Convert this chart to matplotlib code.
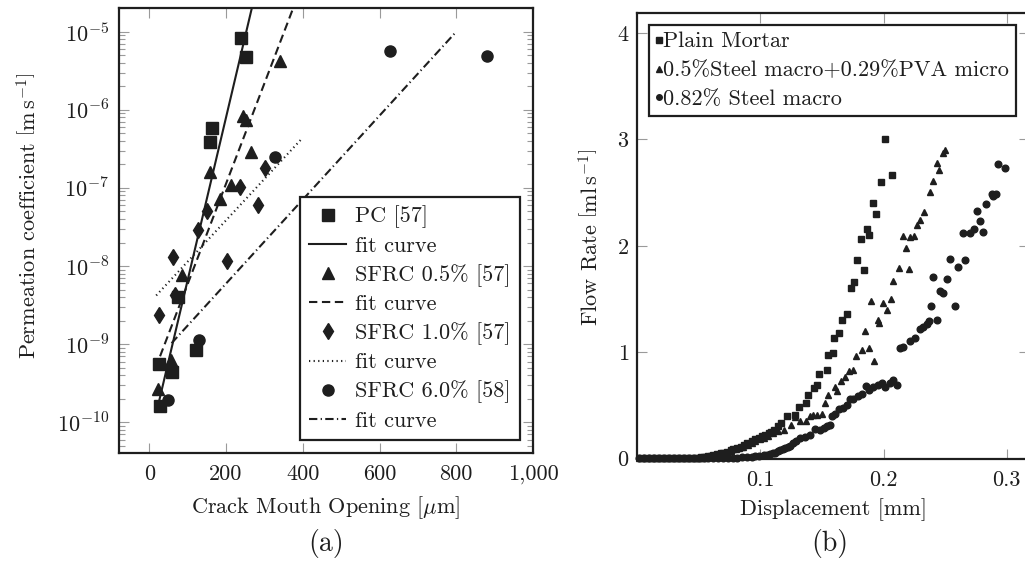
import matplotlib.pyplot as plt
from matplotlib.lines import Line2D

plt.rcParams['font.family'] = ['cmr10', 'DejaVu Serif']
plt.rcParams['mathtext.fontset'] = 'cm'
plt.rcParams['axes.unicode_minus'] = False
plt.rcParams['font.size'] = 16

INK = '#1e1e1e'
TICK = '#9a9a9a'

# ---- (a) permeation coefficient vs crack mouth opening ----
pc_x = [240, 251, 164, 158, 75, 121, 26, 60, 28]
pc_y = [8.2e-6, 4.7e-6, 5.8e-7, 3.9e-7, 4.0e-9, 8.3e-10, 5.5e-10, 4.4e-10, 1.6e-10]
pc_fit_x = [24.5, 280]
pc_fit_y = [1.78e-10, 3.7e-5]

s05_x = [341, 245, 251, 265, 158, 212, 184, 84, 57, 22]
s05_y = [4.2e-6, 8.4e-7, 7.3e-7, 2.85e-7, 1.6e-7, 1.1e-7, 7.3e-8, 7.6e-9, 6.2e-10, 2.7e-10]
s05_fit_x = [28, 400]
s05_fit_y = [7.0e-10, 4.2e-5]

s10_x = [302, 236, 283, 150, 128, 62, 202, 68, 24]
s10_y = [1.8e-7, 1.04e-7, 6.0e-8, 5.0e-8, 2.9e-8, 1.32e-8, 1.15e-8, 4.3e-9, 2.35e-9]
s10_fit_x = [18, 400]
s10_fit_y = [4.2e-9, 4.4e-7]

s60_x = [628, 879, 328, 129, 50]
s60_y = [5.6e-6, 4.9e-6, 2.5e-7, 1.12e-9, 1.95e-10]
s60_fit_x = [58, 800]
s60_fit_y = [1.03e-9, 1.0e-5]

a_xticks = [0, 200, 400, 600, 800, 1000]
a_xlabels = ['0', '200', '400', '600', '800', '1,000']
a_yticks = [1e-10, 1e-9, 1e-8, 1e-7, 1e-6, 1e-5]
a_ylabels = [r'$10^{-10}$', r'$10^{-9}$', r'$10^{-8}$', r'$10^{-7}$', r'$10^{-6}$', r'$10^{-5}$']

# ---- (b) flow rate vs displacement ----
flat_pm = [0.003, 0.007, 0.011, 0.015, 0.019, 0.023, 0.027, 0.031, 0.035, 0.039, 0.043, 0.047]
pm_x = flat_pm + [0.050, 0.052, 0.054, 0.056, 0.058, 0.060, 0.062, 0.065, 0.068, 0.070,
                  0.073, 0.076, 0.078, 0.081, 0.084, 0.087, 0.089, 0.093, 0.096, 0.099,
                  0.101, 0.104, 0.107, 0.109, 0.111, 0.114, 0.117, 0.1215, 0.1283, 0.1318,
                  0.1367, 0.1388, 0.1432, 0.1459, 0.148, 0.154, 0.155, 0.1588, 0.1602, 0.1637,
                  0.1664, 0.1702, 0.1734, 0.1761, 0.1788, 0.1839, 0.1815, 0.1886, 0.1864, 0.1937,
                  0.1918, 0.1977, 0.2066, 0.2015]
pm_y = [0.0] * 12 + [0.008, 0.010, 0.013, 0.016, 0.019, 0.024, 0.031, 0.038, 0.047, 0.053,
                     0.063, 0.078, 0.09, 0.10, 0.11, 0.125, 0.14, 0.16, 0.18, 0.195,
                     0.21, 0.22, 0.24, 0.25, 0.27, 0.30, 0.33, 0.40, 0.41, 0.48,
                     0.52, 0.60, 0.66, 0.69, 0.79, 0.83, 0.97, 0.99, 1.13, 1.18,
                     1.30, 1.36, 1.60, 1.66, 1.87, 1.77, 2.06, 2.10, 2.16, 2.30,
                     2.40, 2.60, 2.67, 3.00]

flat_pva = [0.002, 0.006, 0.010, 0.014, 0.018, 0.022, 0.026, 0.030, 0.034, 0.038, 0.042, 0.046, 0.050, 0.054]
pva_x = flat_pva + [0.057, 0.060, 0.063, 0.066, 0.070, 0.073, 0.076, 0.080, 0.083, 0.086,
                    0.090, 0.093, 0.096, 0.100, 0.103, 0.106, 0.110, 0.114, 0.1194, 0.1248,
                    0.1283, 0.1324, 0.1367, 0.1405, 0.1426, 0.1464, 0.1499, 0.1526, 0.1553, 0.1620,
                    0.1607, 0.1653, 0.1688, 0.1723, 0.1756, 0.1777, 0.1823, 0.1880, 0.1926, 0.1850,
                    0.1966, 0.1953, 0.1899, 0.2031, 0.1996, 0.2058, 0.2080, 0.2128, 0.2206, 0.2180,
                    0.2155, 0.2215, 0.2250, 0.2268, 0.2296, 0.2328, 0.2376, 0.2398, 0.2452, 0.2430,
                    0.2484, 0.2498]
pva_y = [0.0] * 14 + [0.014, 0.025, 0.032, 0.040, 0.05, 0.062, 0.072, 0.085, 0.097, 0.11,
                      0.13, 0.145, 0.16, 0.18, 0.195, 0.215, 0.24, 0.255, 0.27, 0.31,
                      0.39, 0.35, 0.35, 0.40, 0.41, 0.41, 0.42, 0.52, 0.60, 0.63,
                      0.67, 0.73, 0.77, 0.82, 0.83, 0.96, 1.02, 1.04, 0.92, 1.20,
                      1.27, 1.30, 1.48, 1.40, 1.46, 1.50, 1.67, 1.79, 1.78, 1.98,
                      2.09, 2.08, 2.09, 2.20, 2.24, 2.32, 2.51, 2.61, 2.71, 2.78,
                      2.87, 2.90]

flat_st = [0.002, 0.006, 0.010, 0.014, 0.018, 0.022, 0.026, 0.030, 0.034, 0.038, 0.042,
           0.046, 0.050, 0.054, 0.058, 0.062, 0.066, 0.070, 0.074, 0.078]
st_x = flat_st + [0.0811, 0.085, 0.0892, 0.093, 0.096, 0.099, 0.1027, 0.1055, 0.1081, 0.1100,
                  0.1121, 0.1142, 0.1162, 0.1182, 0.1202, 0.1222, 0.1243, 0.1267, 0.1291, 0.1324,
                  0.1364, 0.1405, 0.1445, 0.1486, 0.1515, 0.154, 0.1567, 0.158, 0.1607, 0.1642,
                  0.1669, 0.1702, 0.1729, 0.1756, 0.1796, 0.1823, 0.1856, 0.1885, 0.1918, 0.1958,
                  0.1985, 0.2012, 0.2053, 0.2080, 0.2107,
                  0.2134, 0.2161, 0.2215, 0.2255, 0.2296, 0.2323, 0.2355, 0.2371, 0.2382, 0.2430,
                  0.2457, 0.2479, 0.2403, 0.2511, 0.2579, 0.2538, 0.2606, 0.2660, 0.2646, 0.2700,
                  0.2733, 0.2760, 0.2781, 0.2808, 0.2830, 0.2876, 0.2889, 0.2916, 0.2930, 0.2984]
st_y = [0.0] * 20 + [0.006, 0.009, 0.013, 0.016, 0.019, 0.023, 0.028, 0.034, 0.041, 0.046,
                     0.053, 0.065, 0.078, 0.086, 0.094, 0.107, 0.12, 0.14, 0.16, 0.19,
                     0.20, 0.22, 0.28, 0.27, 0.285, 0.30, 0.31, 0.40, 0.42, 0.46,
                     0.47, 0.50, 0.56, 0.56, 0.59, 0.61, 0.68, 0.64, 0.67, 0.69,
                     0.71, 0.67, 0.71, 0.74, 0.69,
                     1.04, 1.05, 1.10, 1.13, 1.22, 1.24, 1.26, 1.29, 1.43, 1.30,
                     1.57, 1.56, 1.71, 1.69, 1.43, 1.88, 1.80, 1.87, 2.12, 2.12,
                     2.16, 2.33, 2.23, 2.13, 2.39, 2.49, 2.47, 2.49, 2.77, 2.73]

b_xticks = [0.1, 0.2, 0.3]
b_yticks = [0, 1, 2, 3, 4]

fig = plt.figure(figsize=(10.25, 5.62), dpi=100)
ax1 = fig.add_axes([119 / 1025, 1 - 453 / 562, 414 / 1025, 445 / 562])
ax2 = fig.add_axes([637 / 1025, 1 - 459 / 562, 392 / 1025, 446 / 562])

for ax in (ax1, ax2):
    for sp in ax.spines.values():
        sp.set_linewidth(1.6)
        sp.set_color(INK)
    ax.tick_params(which='both', direction='in', top=True, right=True,
                   color=TICK, width=0.8, labelcolor=INK, labelsize=16)
    ax.tick_params(which='major', length=7)

# panel (a)
ax1.set_yscale('log')
ax1.set_xlim(-79, 1000)
ax1.set_ylim(10 ** -10.393, 10 ** -4.697)

ax1.plot(pc_x, pc_y, 's', ms=8, color=INK, label='PC [57]')
ax1.plot(pc_fit_x, pc_fit_y, '-', lw=1.5, color=INK, label='fit curve')
ax1.plot(s05_x, s05_y, '^', ms=8, color=INK, label='SFRC 0.5% [57]')
ax1.plot(s05_fit_x, s05_fit_y, lw=1.5, color=INK, dashes=(4, 2.2), label='fit curve')
ax1.plot(s10_x, s10_y, 'd', ms=8, color=INK, label='SFRC 1.0% [57]')
ax1.plot(s10_fit_x, s10_fit_y, lw=1.5, color=INK, dashes=(0.6, 1.6), label='fit curve')
ax1.plot(s60_x, s60_y, 'o', ms=8, color=INK, label='SFRC 6.0% [58]')
ax1.plot(s60_fit_x, s60_fit_y, lw=1.5, color=INK, dashes=(4, 1.6, 0.6, 1.6), label='fit curve')

ax1.set_xticks(a_xticks)
ax1.set_xticklabels(a_xlabels)
ax1.set_yticks(a_yticks)
ax1.set_yticklabels(a_ylabels)
ax1.tick_params(which='minor', length=4)
ax1.tick_params(axis='x', pad=8)
ax1.tick_params(axis='y', pad=7)

leg1 = ax1.legend(loc='lower right', fontsize=16, frameon=True, fancybox=False,
                  edgecolor=INK, framealpha=1, handlelength=1.7, handletextpad=0.4,
                  labelspacing=0.36, borderaxespad=0.6, borderpad=0.4)
leg1.get_frame().set_linewidth(1.6)
for t in leg1.get_texts():
    t.set_color(INK)

# panel (b): markers sitting on y = 0 are drawn in full over the axis line
ax2.plot(pm_x, pm_y, 's', ms=4.6, color=INK, lw=0, clip_on=False)
ax2.plot(pva_x, pva_y, '^', ms=5, color=INK, lw=0, clip_on=False)
ax2.plot(st_x, st_y, 'o', ms=4.8, color=INK, lw=0, clip_on=False)
ax2.set_xlim(0.0, 0.318)
ax2.set_ylim(-0.006, 4.19)
ax2.set_xticks(b_xticks)
ax2.set_xticklabels(['0.1', '0.2', '0.3'])
ax2.set_yticks(b_yticks)
ax2.set_yticklabels([str(v) for v in b_yticks])
ax2.tick_params(axis='x', pad=8)
ax2.tick_params(axis='y', pad=6)

handles = [Line2D([], [], marker=m, ls='', ms=4, color=INK) for m in ('s', '^', 'o')]
leg2 = ax2.legend(handles, ['Plain Mortar', '0.5%Steel macro+0.29%PVA micro', '0.82% Steel macro'],
                  loc='upper left', fontsize=16, frameon=True, fancybox=False, edgecolor=INK,
                  framealpha=1, handlelength=0.25, handletextpad=0.08, labelspacing=0.42,
                  borderaxespad=0.55, borderpad=0.3)
leg2.get_frame().set_linewidth(1.6)
for t in leg2.get_texts():
    t.set_color(INK)

# axis titles and panel tags
fig.text(28 / 1025, 1 - 216 / 562, r'Permeation coefficient $\left[\mathrm{m\,s^{-1}}\right]$',
         rotation=90, ha='center', va='center', fontsize=16, color=INK)
fig.text(590 / 1025, 1 - 237 / 562, r'Flow Rate $\left[\mathrm{ml\,s^{-1}}\right]$',
         rotation=90, ha='center', va='center', fontsize=16, color=INK)
fig.text(326 / 1025, 1 - 508 / 562, r'Crack Mouth Opening [$\mu$m]',
         ha='center', va='center', fontsize=16, color=INK)
fig.text(833 / 1025, 1 - 510 / 562, 'Displacement [mm]',
         ha='center', va='center', fontsize=16, color=INK)
fig.text(326 / 1025, 1 - 543 / 562, '(a)', ha='center', va='center', fontsize=20, color=INK)
fig.text(830 / 1025, 1 - 543 / 562, '(b)', ha='center', va='center', fontsize=20, color=INK)

fig.savefig('out.png', dpi=100)
